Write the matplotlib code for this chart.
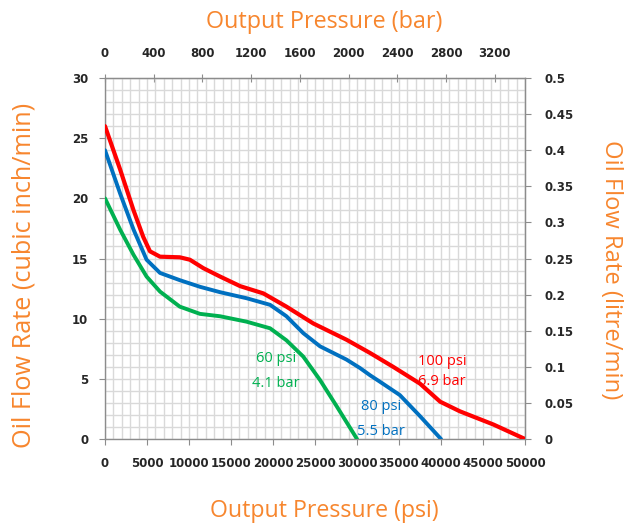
import matplotlib
matplotlib.use("Agg")
import matplotlib.pyplot as plt
import numpy as np

# output pressure (psi) and oil flow rate (cubic inch/min)
psi_100 = [0, 1800, 3400, 4550, 5350, 6550, 8900, 10100, 11700, 13700, 16100, 18850,
           21600, 24800, 28750, 31550, 34300, 37500, 39900, 42250, 46250, 50000]
flow_100 = [26, 22.4, 19.0, 16.8, 15.6, 15.15, 15.1, 14.9, 14.2, 13.5, 12.7, 12.1,
            11.0, 9.6, 8.25, 7.15, 6.0, 4.6, 3.1, 2.3, 1.2, 0]

psi_80 = [0, 1800, 3400, 4950, 6550, 8900, 11300, 13700, 16850, 19650, 21600, 23600,
          25600, 28750, 30350, 31550, 32750, 35100, 37500, 40000]
flow_80 = [24, 20.4, 17.4, 14.9, 13.8, 13.2, 12.65, 12.2, 11.7, 11.15, 10.2, 8.8,
           7.7, 6.6, 5.9, 5.3, 4.75, 3.65, 1.9, 0]

psi_60 = [0, 1800, 3400, 4950, 6550, 8900, 11300, 13700, 16850, 19650, 21600, 23600,
          25600, 27600, 30000]
flow_60 = [20, 17.4, 15.3, 13.5, 12.25, 11.0, 10.4, 10.2, 9.75, 9.2, 8.2, 6.85,
           4.9, 2.7, 0]

psi_ticks = list(range(0, 50001, 5000))
bar_ticks = list(range(0, 3201, 400))
cin_ticks = list(range(0, 31, 5))
lpm_ticks = [0, 0.05, 0.1, 0.15, 0.2, 0.25, 0.3, 0.35, 0.4, 0.45, 0.5]
lpm_labels = ["0", "0.05", "0.1", "0.15", "0.2", "0.25", "0.3", "0.35", "0.4", "0.45", "0.5"]

PSI_PER_BAR = 14.5038
orange = "#F7862E"
tick_col = "#262626"
spine_col = "#8C8C8C"

fig = plt.figure(figsize=(6.24, 5.24), dpi=100)
ax = fig.add_axes([105 / 624, 85 / 524, 420 / 624, 361 / 524])

ax.set_xlim(0, 50000)
ax.set_ylim(0, 30)
ax.set_xticks(psi_ticks)
ax.set_yticks(cin_ticks)
ax.set_xticks(np.arange(0, 50001, 1000), minor=True)
ax.set_yticks(np.arange(0, 31, 1), minor=True)
ax.grid(True, which="both", color="#D9D9D9", linewidth=1.0)
ax.set_axisbelow(True)
ax.tick_params(which="minor", length=0)
ax.tick_params(axis="x", which="major", direction="out", length=4, color=spine_col, pad=9)
ax.tick_params(axis="y", which="major", direction="out", length=4, color=spine_col, pad=8)

for s in ax.spines.values():
    s.set_color(spine_col)
    s.set_linewidth(1.0)

ax.plot(psi_60, flow_60, color="#00B050", lw=2.8, solid_joinstyle="round", solid_capstyle="round", zorder=3)
ax.plot(psi_80, flow_80, color="#0070C0", lw=2.8, solid_joinstyle="round", solid_capstyle="round", zorder=4)
ax.plot(psi_100, flow_100, color="#FF0000", lw=3.0, solid_joinstyle="round", solid_capstyle="round", zorder=5)

lbl = dict(fontsize=10.5, family="Open Sans", ha="center", va="center")
ax.text(20360, 6.65, "60 psi", color="#00B050", **lbl)
ax.text(20360, 4.65, "4.1 bar", color="#00B050", **lbl)
ax.text(32860, 2.74, "80 psi", color="#0070C0", **lbl)
ax.text(32860, 0.66, "5.5 bar", color="#0070C0", **lbl)
ax.text(40120, 6.4, "100 psi", color="#FF0000", **lbl)
ax.text(40120, 4.8, "6.9 bar", color="#FF0000", **lbl)

top = ax.secondary_xaxis("top", functions=(lambda p: p / PSI_PER_BAR, lambda b: b * PSI_PER_BAR))
top.set_xticks(bar_ticks)
top.tick_params(direction="inout", length=6, color=spine_col, pad=10)
top.spines["top"].set_color(spine_col)

right = ax.secondary_yaxis("right", functions=(lambda c: c / 60.0, lambda l: l * 60.0))
right.set_yticks(lpm_ticks)
right.set_yticklabels(lpm_labels)
right.tick_params(direction="out", length=4, color=spine_col, pad=10)
right.spines["right"].set_color(spine_col)

for a in (ax, top, right):
    for t in a.get_xticklabels() + a.get_yticklabels():
        t.set_fontsize(8.5)
        t.set_fontweight("bold")
        t.set_color(tick_col)

tfont = dict(family="Open Sans", color=orange, ha="center", va="center")
fig.text(324 / 624, 1 - 22 / 524, "Output Pressure (bar)", fontsize=16.8, **tfont)
fig.text(324 / 624, 1 - 511 / 524, "Output Pressure (psi)", fontsize=16.7, **tfont)
fig.text(24 / 624, 1 - 275 / 524, "Oil Flow Rate (cubic inch/min)", rotation=90, fontsize=18.2, **tfont)
fig.text(611 / 624, 1 - 270 / 524, "Oil Flow Rate (litre/min)", rotation=270, fontsize=17.1, **tfont)

fig.savefig("out.png", dpi=100)
